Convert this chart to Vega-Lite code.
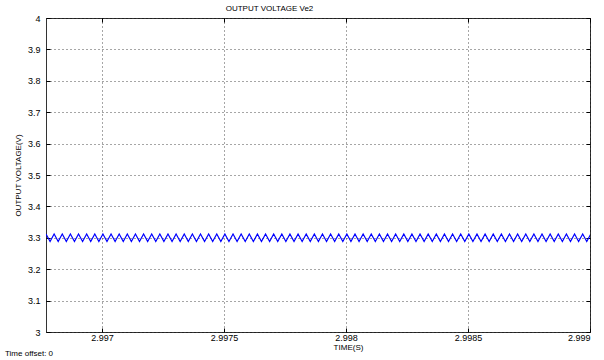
{
  "$schema": "https://vega.github.io/schema/vega-lite/v6.json",
  "width": 544,
  "height": 314,
  "autosize": "none",
  "padding": {"left": 46, "top": 18, "right": 14, "bottom": 28},
  "background": "white",
  "config": {
    "view": {"stroke": "#333", "strokeWidth": 1},
    "font": "Liberation Sans",
    "axis": {"labelFont": "Liberation Sans", "titleFont": "Liberation Sans", "labelColor": "black", "titleColor": "black", "domainColor": "#555", "tickColor": "black", "labelFontSize": 9, "titleFontSize": 8, "titleFontWeight": "normal"}
  },
  "title": {"text": "Time offset:  0", "orient": "bottom", "anchor": "start", "frame": "group", "fontSize": 8, "fontWeight": "normal", "font": "Liberation Sans", "color": "black", "dx": -41, "offset": -1},
  "data": {"values": [
    {"t":2.99677,"v":3.312},{"t":2.9967867,"v":3.288},{"t":2.9968033,"v":3.312},{"t":2.99682,"v":3.288},{"t":2.9968367,"v":3.312},{"t":2.9968533,"v":3.288},
    {"t":2.99687,"v":3.312},{"t":2.9968867,"v":3.288},{"t":2.9969033,"v":3.312},{"t":2.99692,"v":3.288},{"t":2.9969367,"v":3.312},{"t":2.9969533,"v":3.288},
    {"t":2.99697,"v":3.312},{"t":2.9969867,"v":3.288},{"t":2.9970033,"v":3.312},{"t":2.99702,"v":3.288},{"t":2.9970367,"v":3.312},{"t":2.9970533,"v":3.288},
    {"t":2.99707,"v":3.312},{"t":2.9970867,"v":3.288},{"t":2.9971033,"v":3.312},{"t":2.99712,"v":3.288},{"t":2.9971367,"v":3.312},{"t":2.9971533,"v":3.288},
    {"t":2.99717,"v":3.312},{"t":2.9971867,"v":3.288},{"t":2.9972033,"v":3.312},{"t":2.99722,"v":3.288},{"t":2.9972367,"v":3.312},{"t":2.9972533,"v":3.288},
    {"t":2.99727,"v":3.312},{"t":2.9972867,"v":3.288},{"t":2.9973033,"v":3.312},{"t":2.99732,"v":3.288},{"t":2.9973367,"v":3.312},{"t":2.9973533,"v":3.288},
    {"t":2.99737,"v":3.312},{"t":2.9973867,"v":3.288},{"t":2.9974033,"v":3.312},{"t":2.99742,"v":3.288},{"t":2.9974367,"v":3.312},{"t":2.9974533,"v":3.288},
    {"t":2.99747,"v":3.312},{"t":2.9974867,"v":3.288},{"t":2.9975033,"v":3.312},{"t":2.99752,"v":3.288},{"t":2.9975367,"v":3.312},{"t":2.9975533,"v":3.288},
    {"t":2.99757,"v":3.312},{"t":2.9975867,"v":3.288},{"t":2.9976033,"v":3.312},{"t":2.99762,"v":3.288},{"t":2.9976367,"v":3.312},{"t":2.9976533,"v":3.288},
    {"t":2.99767,"v":3.312},{"t":2.9976867,"v":3.288},{"t":2.9977033,"v":3.312},{"t":2.99772,"v":3.288},{"t":2.9977367,"v":3.312},{"t":2.9977533,"v":3.288},
    {"t":2.99777,"v":3.312},{"t":2.9977867,"v":3.288},{"t":2.9978033,"v":3.312},{"t":2.99782,"v":3.288},{"t":2.9978367,"v":3.312},{"t":2.9978533,"v":3.288},
    {"t":2.99787,"v":3.312},{"t":2.9978867,"v":3.288},{"t":2.9979033,"v":3.312},{"t":2.99792,"v":3.288},{"t":2.9979367,"v":3.312},{"t":2.9979533,"v":3.288},
    {"t":2.99797,"v":3.312},{"t":2.9979867,"v":3.288},{"t":2.9980033,"v":3.312},{"t":2.99802,"v":3.288},{"t":2.9980367,"v":3.312},{"t":2.9980533,"v":3.288},
    {"t":2.99807,"v":3.312},{"t":2.9980867,"v":3.288},{"t":2.9981033,"v":3.312},{"t":2.99812,"v":3.288},{"t":2.9981367,"v":3.312},{"t":2.9981533,"v":3.288},
    {"t":2.99817,"v":3.312},{"t":2.9981867,"v":3.288},{"t":2.9982033,"v":3.312},{"t":2.99822,"v":3.288},{"t":2.9982367,"v":3.312},{"t":2.9982533,"v":3.288},
    {"t":2.99827,"v":3.312},{"t":2.9982867,"v":3.288},{"t":2.9983033,"v":3.312},{"t":2.99832,"v":3.288},{"t":2.9983367,"v":3.312},{"t":2.9983533,"v":3.288},
    {"t":2.99837,"v":3.312},{"t":2.9983867,"v":3.288},{"t":2.9984033,"v":3.312},{"t":2.99842,"v":3.288},{"t":2.9984367,"v":3.312},{"t":2.9984533,"v":3.288},
    {"t":2.99847,"v":3.312},{"t":2.9984867,"v":3.288},{"t":2.9985033,"v":3.312},{"t":2.99852,"v":3.288},{"t":2.9985367,"v":3.312},{"t":2.9985533,"v":3.288},
    {"t":2.99857,"v":3.312},{"t":2.9985867,"v":3.288},{"t":2.9986033,"v":3.312},{"t":2.99862,"v":3.288},{"t":2.9986367,"v":3.312},{"t":2.9986533,"v":3.288},
    {"t":2.99867,"v":3.312},{"t":2.9986867,"v":3.288},{"t":2.9987033,"v":3.312},{"t":2.99872,"v":3.288},{"t":2.9987367,"v":3.312},{"t":2.9987533,"v":3.288},
    {"t":2.99877,"v":3.312},{"t":2.9987867,"v":3.288},{"t":2.9988033,"v":3.312},{"t":2.99882,"v":3.288},{"t":2.9988367,"v":3.312},{"t":2.9988533,"v":3.288},
    {"t":2.99887,"v":3.312},{"t":2.9988867,"v":3.288},{"t":2.9989033,"v":3.312},{"t":2.99892,"v":3.288},{"t":2.9989367,"v":3.312},{"t":2.9989533,"v":3.288},
    {"t":2.99897,"v":3.312},{"t":2.9989867,"v":3.288},{"t":2.9990033,"v":3.312}
  ]},
  "layer": [
    {
      "mark": {"type": "line", "color": "#0000ff", "strokeWidth": 1.2, "clip": true},
      "encoding": {
        "x": {"field": "t", "type": "quantitative",
          "scale": {"domain": [2.99677, 2.999], "nice": false, "zero": false},
          "axis": {"orient": "bottom", "values": [2.997, 2.9975, 2.998, 2.9985, 2.999], "format": "~g", "title": "TIME(S)", "titleX": 302, "titlePadding": 1, "tickSize": -4, "labelPadding": 5, "grid": true, "gridColor": "black", "gridDash": [1, 3], "gridOpacity": 0.7, "domain": false}},
        "y": {"field": "v", "type": "quantitative",
          "scale": {"domain": [3, 4], "nice": false, "zero": false},
          "axis": {"orient": "left", "values": [3, 3.1, 3.2, 3.3, 3.4, 3.5, 3.6, 3.7, 3.8, 3.9, 4], "format": "~g", "title": "OUTPUT VOLTAGE(V)", "titlePadding": 5, "tickSize": -4, "labelPadding": 10, "grid": true, "gridColor": "black", "gridDash": [1, 3], "gridOpacity": 0.7, "domain": false}}
      }
    },
    {
      "mark": {"type": "line", "opacity": 0},
      "encoding": {
        "x": {"field": "t", "type": "quantitative",
          "scale": {"domain": [2.99677, 2.999], "nice": false, "zero": false},
          "axis": {"orient": "top", "values": [2.997, 2.9975, 2.998, 2.9985, 2.999], "labels": false, "title": "OUTPUT VOLTAGE Ve2", "titleX": 223, "titleY": -6, "tickSize": -4, "grid": false, "domain": false}},
        "y": {"field": "v", "type": "quantitative",
          "scale": {"domain": [3, 4], "nice": false, "zero": false},
          "axis": {"orient": "right", "values": [3, 3.1, 3.2, 3.3, 3.4, 3.5, 3.6, 3.7, 3.8, 3.9, 4], "labels": false, "title": null, "tickSize": -4, "grid": false, "domain": false}}
      }
    }
  ],
  "resolve": {"axis": {"x": "independent", "y": "independent"}}
}
